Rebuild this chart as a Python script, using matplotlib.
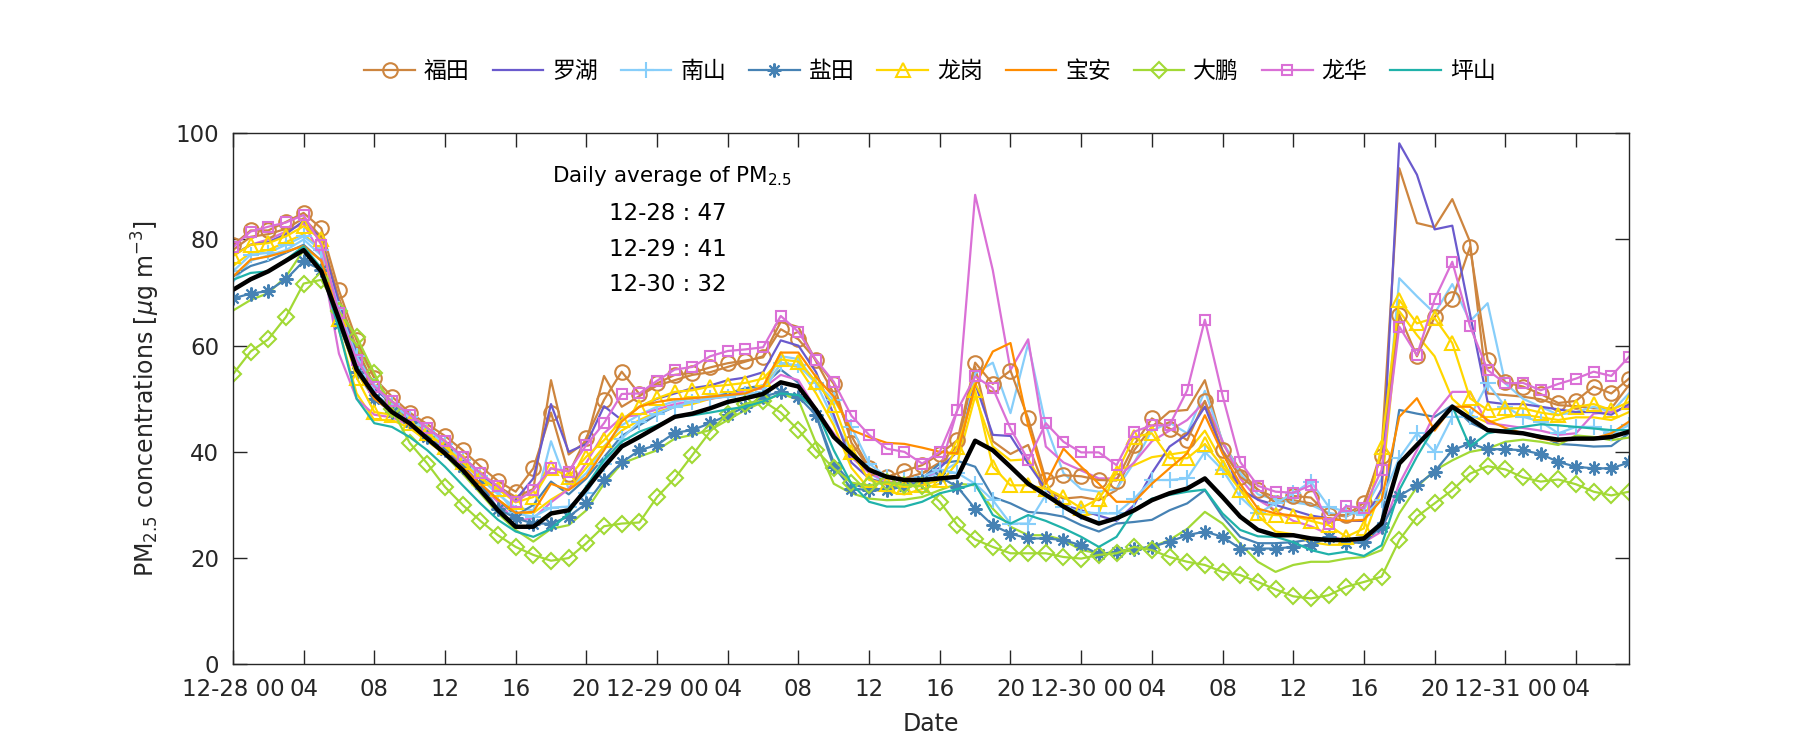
import matplotlib
matplotlib.use('Agg')
import matplotlib.pyplot as plt
import numpy as np

plt.rcParams['font.family'] = ['DejaVu Sans', 'Noto Sans CJK SC']
plt.rcParams['mathtext.fontset'] = 'dejavusans'

# hourly index, 12-28 00 .. 12-31 07
hours = np.arange(80)
tick_hours = list(range(0, 80, 4))
tick_labels = ['12-28 00', '04', '08', '12', '16', '20',
               '12-29 00', '04', '08', '12', '16', '20',
               '12-30 00', '04', '08', '12', '16', '20',
               '12-31 00', '04']

# stations shown in legend
futian = [78.9, 81.7, 81.7, 83.3, 85.0, 82.1, 70.4, 61.0, 53.9, 50.4,
          47.4, 45.2, 43.0, 40.3, 37.3, 34.5, 32.5, 36.9, 47.4, 35.9,
          42.7, 49.8, 55.1, 50.9, 52.9, 54.5, 54.9, 55.9, 56.7, 57.2,
          57.8, 63.1, 61.2, 57.3, 52.8, 41.7, 36.9, 35.3, 36.4, 37.5,
          39.6, 42.2, 56.8, 52.8, 55.3, 46.3, 34.7, 35.6, 35.4, 34.7,
          34.6, 41.3, 46.3, 44.4, 42.2, 49.6, 40.3, 35.3, 32.9, 30.4,
          31.7, 31.4, 28.1, 28.1, 30.4, 39.2, 65.8, 58.0, 65.4, 68.7,
          78.6, 57.3, 53.1, 52.3, 50.9, 49.2, 49.6, 52.3, 51.0, 53.8]
luohu = [77.0, 79.0, 79.5, 81.0, 83.5, 80.0, 68.0, 58.5, 52.0, 49.0,
         46.5, 44.5, 42.0, 39.0, 36.0, 33.0, 31.0, 35.0, 49.0, 40.0,
         41.5, 48.6, 46.0, 48.5, 50.0, 51.0, 52.0, 52.5, 53.5, 54.0,
         55.0, 61.0, 60.0, 55.0, 47.0, 38.0, 35.0, 34.0, 34.0, 35.0,
         37.0, 40.0, 52.9, 43.2, 43.0, 37.8, 33.0, 30.0, 29.0, 28.0,
         27.0, 30.0, 36.0, 41.0, 43.3, 48.5, 40.0, 33.0, 31.0, 30.0,
         29.0, 28.0, 27.5, 27.0, 27.0, 33.0, 98.1, 92.2, 81.9, 82.6,
         66.0, 49.4, 49.0, 49.0, 48.5, 48.0, 47.5, 47.5, 47.0, 49.0]
nanshan = [74.0, 77.1, 77.5, 79.0, 80.6, 78.0, 67.0, 58.0, 52.5, 49.0,
           46.5, 44.0, 41.5, 38.5, 35.5, 32.5, 28.4, 27.8, 29.5, 29.7,
           32.2, 37.8, 42.5, 45.7, 47.2, 48.5, 49.4, 50.1, 50.4, 50.9,
           51.3, 56.7, 56.3, 52.9, 49.8, 44.7, 37.8, 35.3, 34.7, 35.3,
           36.6, 36.0, 34.0, 30.9, 26.5, 26.5, 31.9, 29.7, 28.7, 28.4,
           28.4, 31.2, 34.7, 34.7, 35.0, 40.0, 36.6, 31.5, 28.4, 30.3,
           32.2, 34.4, 29.7, 28.7, 28.1, 31.0, 38.8, 43.5, 40.0, 46.6,
           46.6, 52.9, 48.5, 46.6, 45.7, 43.5, 44.7, 44.7, 43.5, 45.0]
yantian = [68.9, 69.8, 70.3, 72.5, 75.9, 74.3, 64.0, 55.0, 50.0, 47.5,
           45.7, 42.8, 40.3, 37.2, 34.0, 29.3, 27.5, 26.5, 26.5, 27.8,
           30.3, 34.7, 38.0, 40.3, 41.3, 43.6, 44.1, 45.4, 46.9, 48.5,
           50.4, 51.3, 50.4, 46.9, 37.2, 33.1, 32.8, 32.8, 33.5, 34.5,
           35.3, 33.4, 29.3, 26.2, 24.6, 23.7, 23.7, 23.4, 22.4, 20.7,
           21.2, 21.8, 22.1, 23.1, 24.3, 25.0, 24.0, 21.8, 21.8, 21.8,
           22.1, 22.5, 23.9, 22.8, 23.0, 25.9, 31.7, 33.7, 36.3, 40.3,
           41.6, 40.5, 40.5, 40.3, 39.6, 38.1, 37.2, 36.9, 36.9, 38.0]
longgang = [76.9, 79.0, 79.3, 80.6, 82.5, 80.0, 65.0, 54.0, 47.5, 47.0,
            45.5, 43.5, 41.0, 38.0, 35.0, 33.0, 30.5, 31.5, 37.0, 35.3,
            39.1, 42.2, 46.0, 48.5, 50.1, 51.3, 51.6, 52.3, 52.6, 53.0,
            53.8, 57.4, 57.0, 53.2, 48.8, 40.0, 34.7, 34.0, 33.4, 33.7,
            34.7, 41.0, 51.6, 37.2, 33.7, 33.7, 33.1, 31.5, 29.4, 31.2,
            36.0, 42.8, 43.5, 38.8, 38.8, 41.5, 37.2, 32.8, 28.4, 28.1,
            28.0, 27.0, 26.2, 24.0, 25.6, 41.0, 68.6, 64.2, 65.2, 60.5,
            50.1, 47.9, 48.2, 48.2, 47.4, 46.9, 48.5, 49.0, 47.9, 49.4]
baoan = [73.0, 76.2, 76.8, 77.7, 78.8, 76.0, 65.0, 55.5, 50.0, 47.5,
         45.0, 42.5, 40.0, 37.0, 34.0, 31.0, 28.5, 28.7, 34.0, 32.8,
         35.3, 40.3, 45.7, 48.5, 49.4, 49.9, 50.1, 50.4, 50.7, 51.0,
         52.3, 58.7, 58.7, 54.1, 50.4, 44.1, 42.8, 41.7, 41.5, 40.8,
         40.0, 39.7, 52.5, 58.9, 60.5, 45.0, 34.0, 40.6, 37.2, 34.0,
         30.6, 30.6, 34.0, 36.9, 39.7, 46.9, 39.7, 34.0, 29.3, 28.4,
         28.0, 27.5, 27.5, 27.0, 27.2, 31.0, 46.6, 50.1, 44.0, 48.5,
         48.5, 46.0, 44.5, 43.5, 42.5, 42.0, 42.5, 42.5, 43.5, 45.7]
dapeng = [54.6, 58.9, 61.2, 65.4, 71.7, 72.4, 66.5, 61.7, 54.8, 48.0,
          41.7, 37.8, 33.4, 30.0, 27.0, 24.3, 22.1, 20.6, 19.5, 20.0,
          22.8, 26.0, 26.5, 26.7, 31.5, 35.0, 39.4, 43.8, 47.2, 49.1,
          49.6, 47.4, 44.1, 40.3, 36.9, 34.2, 33.7, 34.3, 33.8, 33.5,
          30.6, 26.2, 23.5, 22.1, 20.9, 20.9, 20.9, 20.2, 19.9, 20.6,
          20.9, 22.1, 21.5, 20.2, 19.3, 18.7, 17.4, 16.8, 15.5, 14.1,
          12.8, 12.4, 13.0, 14.6, 15.5, 16.5, 23.4, 27.8, 30.3, 32.8,
          35.9, 37.3, 36.7, 35.2, 34.4, 34.8, 33.9, 32.5, 31.8, 32.5]
longhua = [78.5, 81.5, 82.4, 83.2, 84.6, 79.0, 66.2, 57.3, 52.3, 49.5,
           47.0, 44.5, 42.0, 39.0, 36.0, 33.5, 30.6, 32.8, 36.9, 36.3,
           41.3, 45.4, 50.9, 51.0, 53.4, 55.5, 56.0, 58.0, 59.0, 59.3,
           59.7, 65.6, 62.6, 57.3, 53.2, 46.8, 43.2, 40.6, 40.0, 37.8,
           40.0, 47.9, 54.2, 52.0, 44.4, 38.5, 45.4, 41.9, 39.9, 39.9,
           37.5, 43.8, 45.0, 45.0, 51.6, 64.9, 50.6, 38.1, 33.6, 32.5,
           32.3, 33.7, 26.5, 29.8, 29.4, 36.6, 63.6, 58.2, 68.7, 75.8,
           63.7, 55.4, 52.9, 53.0, 51.6, 52.8, 53.8, 55.1, 54.3, 57.9]
pingshan = [72.4, 73.7, 74.0, 76.2, 78.7, 74.6, 63.0, 50.0, 45.4, 44.7,
            42.8, 40.3, 37.2, 33.7, 30.3, 27.2, 25.0, 24.0, 25.5, 28.4,
            33.5, 38.5, 41.9, 43.8, 45.0, 46.6, 46.9, 47.4, 48.0, 48.5,
            49.5, 51.0, 50.7, 48.0, 40.3, 34.0, 30.6, 29.7, 29.7, 30.6,
            32.2, 33.0, 34.0, 28.1, 26.5, 28.1, 27.0, 25.6, 24.0, 22.1,
            24.0, 29.0, 31.2, 31.9, 32.5, 32.9, 28.4, 25.3, 24.1, 24.0,
            23.0, 21.5, 20.7, 21.2, 20.4, 22.4, 32.8, 39.1, 44.7, 48.6,
            41.0, 43.5, 44.1, 44.7, 45.2, 45.0, 44.7, 44.4, 44.1, 44.1]

# second stations of the same districts (no markers, not in legend)
futian_2 = [78.0, 80.5, 81.0, 82.0, 84.0, 80.5, 69.0, 59.5, 52.5, 49.5,
            47.0, 44.5, 42.0, 39.0, 36.0, 33.5, 31.5, 33.0, 53.5, 39.5,
            42.0, 54.3, 48.5, 50.5, 52.5, 53.5, 54.5, 55.0, 56.0, 57.0,
            58.0, 64.5, 63.5, 57.0, 51.0, 43.0, 37.0, 35.0, 35.0, 36.0,
            38.0, 41.0, 56.0, 42.0, 39.6, 41.3, 32.8, 31.2, 31.5, 30.9,
            32.8, 40.3, 44.7, 47.6, 47.9, 53.5, 41.6, 36.6, 32.8, 31.4,
            30.9, 30.3, 28.4, 27.8, 29.7, 40.3, 93.4, 83.1, 82.3, 87.6,
            79.6, 51.0, 50.7, 50.4, 49.9, 48.8, 48.6, 48.2, 48.2, 52.6]
nanshan_2 = [72.0, 76.0, 77.0, 78.0, 80.0, 77.0, 66.0, 57.0, 51.0, 48.5,
             46.0, 43.5, 41.0, 38.0, 35.0, 32.0, 29.5, 29.0, 42.0, 33.0,
             36.0, 41.0, 45.0, 47.0, 48.5, 49.5, 50.0, 50.5, 51.0, 51.5,
             52.0, 58.0, 57.5, 53.0, 46.0, 40.0, 36.0, 34.0, 34.0, 35.0,
             36.0, 38.0, 54.8, 56.8, 47.3, 60.4, 45.0, 36.0, 33.0, 32.5,
             33.0, 38.0, 44.0, 45.5, 43.5, 51.5, 42.0, 36.0, 32.0, 31.0,
             30.5, 30.0, 28.5, 28.0, 29.0, 35.0, 72.7, 69.3, 66.1, 71.6,
             64.6, 68.0, 52.9, 50.0, 48.5, 47.0, 47.5, 48.5, 47.5, 51.0]
yantian_2 = [73.0, 75.0, 76.0, 77.5, 79.0, 76.0, 66.0, 56.0, 51.0, 48.0,
             45.5, 43.0, 40.5, 37.5, 34.0, 31.0, 28.0, 30.0, 34.4, 32.0,
             35.0, 39.0, 43.0, 45.0, 47.0, 48.5, 49.5, 50.0, 51.0, 52.0,
             52.5, 55.5, 53.0, 47.0, 38.0, 34.0, 33.0, 33.0, 34.0, 35.0,
             37.8, 38.3, 37.2, 31.5, 30.3, 28.7, 28.4, 27.8, 26.2, 25.0,
             26.5, 26.8, 27.2, 29.0, 30.3, 32.8, 27.8, 24.0, 22.8, 22.8,
             23.0, 23.5, 23.5, 23.0, 23.5, 27.0, 47.9, 47.2, 46.6, 48.8,
             45.5, 44.0, 44.0, 43.5, 43.0, 41.5, 41.3, 41.0, 41.1, 43.5]
longgang_2 = [75.0, 77.5, 78.0, 79.5, 81.0, 78.0, 63.0, 51.0, 46.0, 46.0,
              44.5, 42.0, 39.5, 36.5, 33.5, 31.0, 28.5, 28.5, 31.0, 33.0,
              37.0, 41.0, 44.0, 46.0, 47.5, 48.5, 49.0, 50.0, 50.5, 51.5,
              52.0, 56.5, 56.0, 51.0, 45.0, 37.0, 33.0, 32.5, 32.0, 33.0,
              34.0, 38.0, 50.5, 41.0, 38.4, 38.6, 33.0, 30.0, 28.0, 28.5,
              36.6, 37.5, 39.0, 39.5, 40.0, 44.0, 38.0, 33.0, 28.0, 25.0,
              24.5, 23.0, 22.5, 22.5, 24.0, 33.0, 66.5, 62.0, 58.0, 50.0,
              47.0, 45.5, 46.5, 47.0, 46.5, 46.0, 46.5, 46.5, 46.0, 47.5]
dapeng_2 = [66.6, 68.6, 69.9, 73.0, 78.0, 74.0, 65.0, 60.0, 54.0, 49.0,
            45.4, 42.8, 39.4, 35.9, 32.2, 28.4, 25.3, 23.1, 25.5, 26.2,
            29.0, 34.0, 37.8, 39.1, 40.3, 42.5, 43.2, 44.1, 46.0, 47.9,
            49.4, 51.0, 49.8, 41.6, 34.0, 32.2, 31.2, 30.9, 31.0, 31.5,
            32.8, 34.0, 33.7, 29.3, 25.9, 24.3, 24.3, 23.4, 21.5, 20.9,
            21.0, 21.5, 22.1, 23.4, 25.5, 28.7, 26.5, 22.7, 19.3, 17.4,
            18.7, 19.3, 19.3, 19.9, 20.2, 21.5, 28.4, 33.4, 36.5, 38.4,
            40.0, 40.6, 41.9, 42.3, 41.9, 41.3, 43.1, 42.8, 42.2, 42.7]
longhua_2 = [77.0, 79.0, 80.0, 81.5, 83.0, 77.0, 58.5, 50.0, 47.0, 46.5,
             45.0, 43.0, 40.5, 37.5, 34.0, 30.5, 27.0, 27.5, 30.5, 33.0,
             38.0, 43.5, 46.5, 47.0, 48.0, 49.0, 49.5, 50.0, 50.5, 51.5,
             52.0, 54.5, 53.5, 48.0, 43.5, 39.0, 36.0, 34.5, 34.0, 35.0,
             36.5, 48.0, 88.4, 74.2, 55.4, 61.2, 41.0, 38.0, 36.5, 35.0,
             35.0, 38.0, 42.0, 44.0, 46.0, 49.5, 42.0, 35.0, 31.0, 29.0,
             27.0, 26.0, 24.5, 23.0, 23.0, 25.0, 34.0, 40.3, 47.2, 51.3,
             51.3, 45.4, 45.0, 44.5, 44.0, 43.2, 43.5, 47.2, 47.5, 48.5]

# city average
average = [70.5, 72.5, 74.0, 76.0, 78.0, 74.0, 65.0, 55.5, 50.8, 47.5,
           45.4, 42.5, 39.7, 36.6, 32.8, 29.0, 25.9, 25.9, 28.4, 29.0,
           33.0, 37.2, 41.0, 42.8, 44.7, 46.6, 47.2, 48.2, 49.4, 50.1,
           50.9, 53.1, 52.3, 47.9, 42.8, 39.7, 36.6, 35.3, 34.7, 34.7,
           35.0, 35.3, 42.1, 40.3, 37.2, 34.0, 31.9, 29.7, 27.8, 26.5,
           27.5, 29.0, 30.9, 32.2, 33.1, 35.0, 31.5, 27.8, 25.3, 24.3,
           24.3, 23.7, 23.4, 23.4, 23.7, 26.5, 37.8, 41.3, 44.7, 48.5,
           46.3, 44.1, 43.8, 43.5, 42.8, 42.3, 42.5, 42.5, 42.8, 43.8]

daily_avg = ['12-28 : 47', '12-29 : 41', '12-30 : 32']

legend_series = [
    ('福田', futian, '#CD853F', 'o', 10.5),
    ('罗湖', luohu, '#6A5ACD', None, 0),
    ('南山', nanshan, '#87CEFA', '+', 11),
    ('盐田', yantian, '#4682B4', (8, 2, 0), 10),
    ('龙岗', longgang, '#FFD700', '^', 10),
    ('宝安', baoan, '#FF8C00', None, 0),
    ('大鹏', dapeng, '#A2D935', 'D', 8.5),
    ('龙华', longhua, '#DA70D6', 's', 7),
    ('坪山', pingshan, '#20B2AA', None, 0),
]
extra_series = [
    (futian_2, '#CD853F'),
    (nanshan_2, '#87CEFA'),
    (yantian_2, '#4682B4'),
    (longgang_2, '#FFD700'),
    (dapeng_2, '#A2D935'),
    (longhua_2, '#DA70D6'),
]

fig = plt.figure(figsize=(18, 7.5), dpi=100)
ax = fig.add_axes([0.1294, 0.1143, 0.7756, 0.708])

for vals, col in extra_series:
    ax.plot(hours, vals, color=col, lw=1.6)

handles = []
for name, vals, col, mk, ms in legend_series:
    if mk is None:
        h, = ax.plot(hours, vals, color=col, lw=1.6, label=name)
    else:
        h, = ax.plot(hours, vals, color=col, lw=1.6, marker=mk, ms=ms,
                     mfc='none', mec=col, mew=1.5, label=name)
    handles.append(h)

ax.plot(hours, average, color='black', lw=3.2)

ax.set_xlim(0, 79)
ax.set_ylim(0, 100)
ax.set_xticks(tick_hours)
ax.set_xticklabels(tick_labels)
ax.set_yticks(range(0, 101, 20))
ax.tick_params(direction='in', length=10, width=1, top=True, right=True,
               labelsize=16.5, colors='#262626', pad=10)
for sp in ax.spines.values():
    sp.set_color('#262626')
    sp.set_linewidth(1)

ax.set_xlabel('Date', fontsize=17, color='#262626', labelpad=8)
ax.set_ylabel('PM$_{2.5}$ concentrations [$\\mu$g m$^{-3}$]', fontsize=17,
              color='#262626', labelpad=10)

ax.text(18.06, 92, 'Daily average of PM$_{2.5}$', fontsize=15.5, va='center')
for i, s in enumerate(daily_avg):
    ax.text(21.3, 84.9 - 6.7 * i, s, fontsize=16.5, va='center')

fig.legend(handles=handles, loc='center', bbox_to_anchor=(930 / 1800, 0.905),
           ncol=9, frameon=False, fontsize=16.5, handlelength=2.2,
           columnspacing=1.0, handletextpad=0.4)

fig.savefig('out.png', dpi=100)
